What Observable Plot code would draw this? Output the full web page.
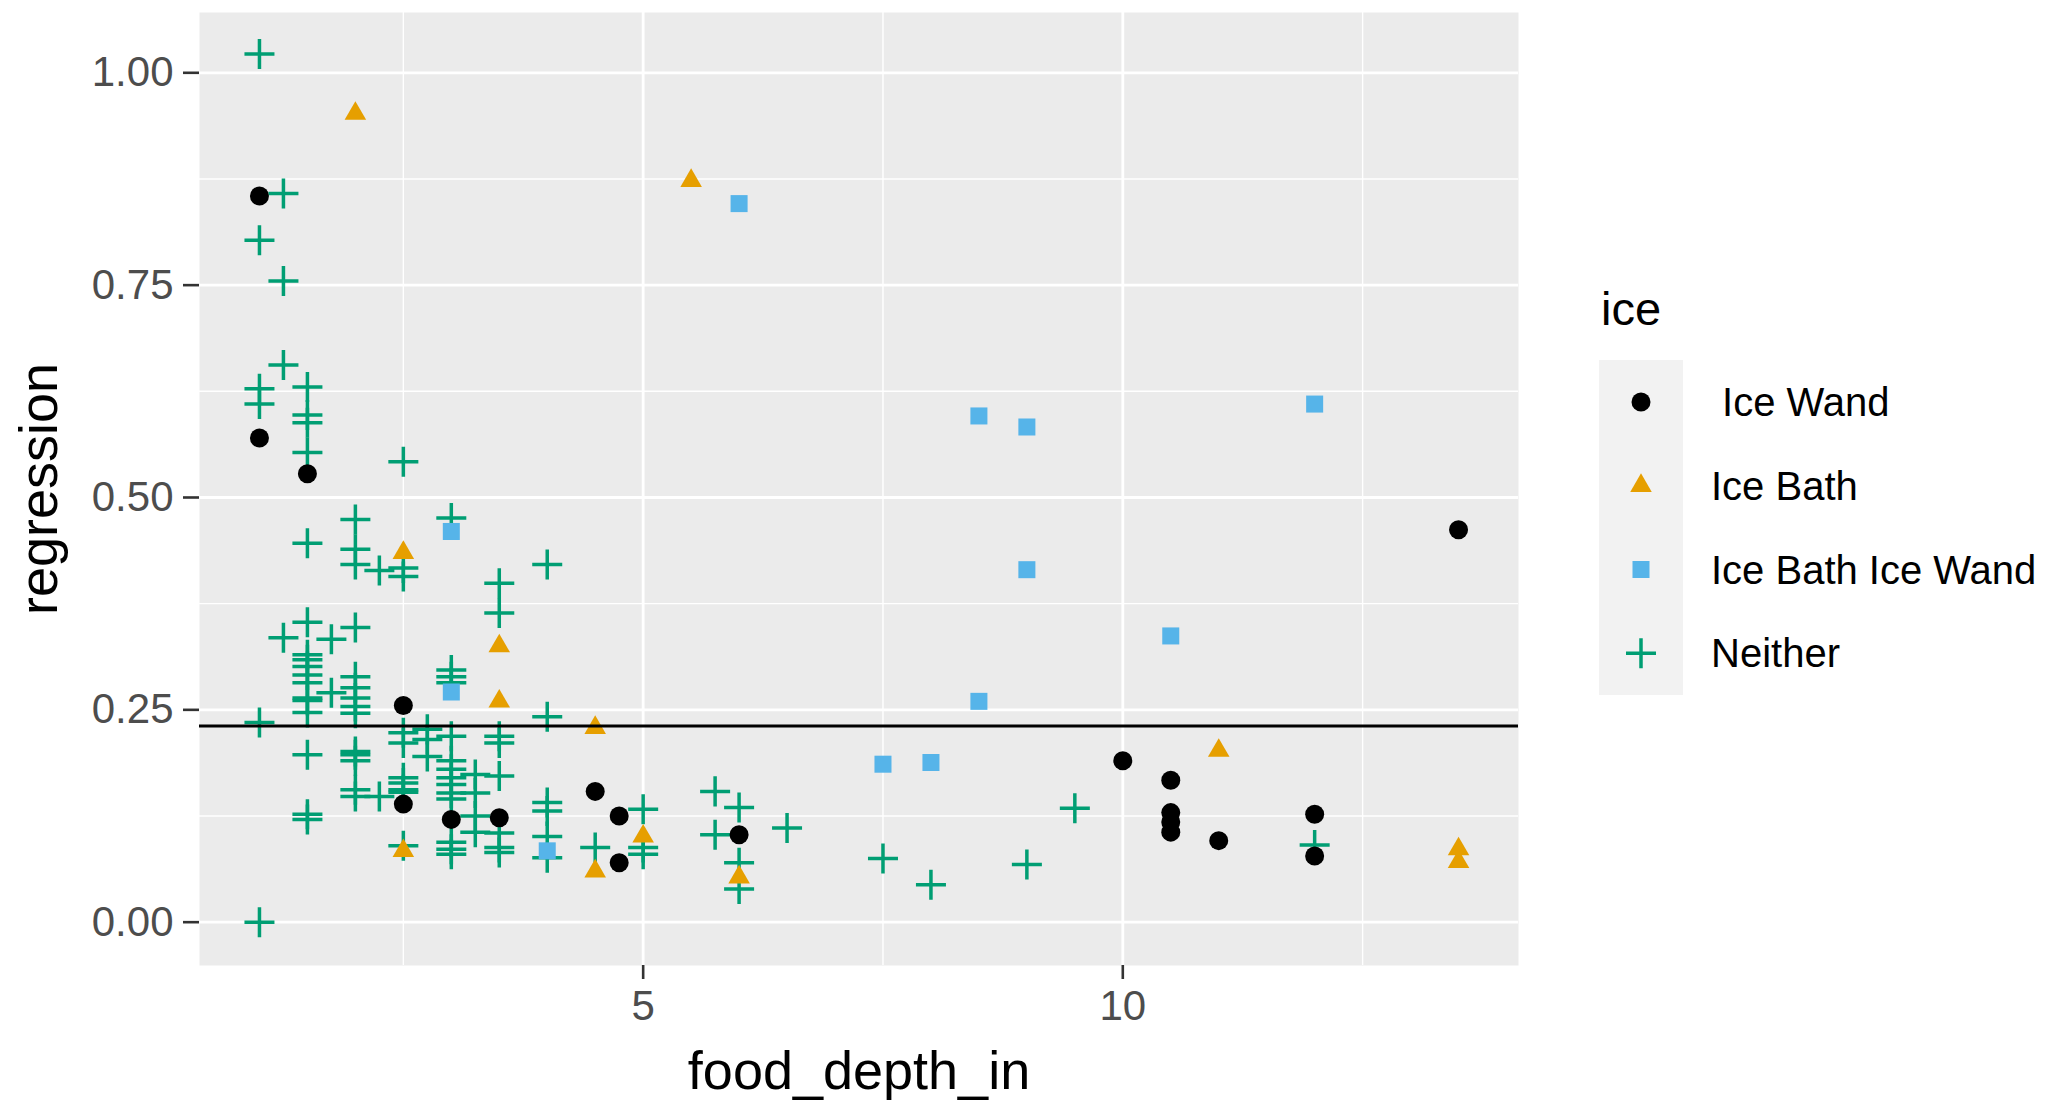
<!DOCTYPE html>
<html>
<head>
<meta charset="utf-8">
<script src="https://cdn.jsdelivr.net/npm/d3@7"></script>
<script src="https://cdn.jsdelivr.net/npm/@observablehq/plot@0.6"></script>
<style>
  html, body { margin: 0; padding: 0; background: #ffffff; }
  #wrap { position: relative; width: 2069px; height: 1104px; font-family: "Liberation Sans", Arial, sans-serif; overflow: hidden; }
  #chart { position: absolute; left: 0; top: 0; }
  #legend { position: absolute; left: 1560px; top: 260px; }
</style>
</head>
<body>
<div id="wrap"><div id="chart"></div><div id="legend"></div></div>
<script>
// ---- categories / styling keys ----
const categories = [" Ice Wand", "Ice Bath", "Ice Bath Ice Wand", "Neither"];
const colors = ["#000000", "#E69F00", "#56B4E9", "#009E73"];
const shapes = ["circle", "triangle", "square", "plus"];

// ---- tick values ----
const xMajorTicks = [5, 10];
const xMinorTicks = [2.5, 7.5, 12.5];
const yMajorTicks = [0, 0.25, 0.5, 0.75, 1.0];
const yMinorTicks = [0.125, 0.375, 0.625, 0.875];
const xDomain = [0.375, 14.125];
const yDomain = [-0.051, 1.071];
const hlineValue = [0.231];

// ---- " Ice Wand" (black circles) ----
const iceWandX = [1, 1, 1.5, 2.5, 2.5, 3, 3.5, 4.5, 4.75, 4.75, 6, 10, 10.5, 10.5, 10.5, 10.5, 11, 12, 12, 13.5];
const iceWandY = [0.855, 0.570, 0.528, 0.255, 0.139, 0.121, 0.123, 0.154, 0.125, 0.070, 0.103, 0.190, 0.167, 0.129, 0.118, 0.106, 0.096, 0.127, 0.078, 0.462];

// ---- "Ice Bath" (orange triangles) ----
const iceBathX = [2, 2.5, 2.5, 3.5, 3.5, 4.5, 4.5, 5, 5.5, 6, 11, 13.5, 13.5];
const iceBathY = [0.952, 0.435, 0.084, 0.325, 0.260, 0.229, 0.060, 0.101, 0.873, 0.053, 0.202, 0.086, 0.071];

// ---- "Ice Bath Ice Wand" (blue squares) ----
const bothX = [3, 3, 4, 6, 7.5, 8, 8.5, 8.5, 9, 9, 10.5, 12];
const bothY = [0.460, 0.271, 0.084, 0.846, 0.186, 0.188, 0.596, 0.260, 0.583, 0.415, 0.337, 0.610];

// ---- "Neither" (green plus), grouped by food depth ----
const neitherDepths = [1, 1.25, 1.5, 1.75, 2, 2.25, 2.5, 2.75, 3, 3.25, 3.5, 4, 4.5, 5, 5.75, 6, 6.5, 7.5, 8, 9, 9.5, 12];
const neitherValues = [
  [1.022, 0.803, 0.628, 0.610, 0.235, 0.000],
  [0.858, 0.755, 0.656, 0.335],
  [0.630, 0.597, 0.588, 0.553, 0.446, 0.353, 0.315, 0.309, 0.301, 0.291, 0.282, 0.264, 0.261, 0.247, 0.197, 0.127, 0.121],
  [0.333, 0.270],
  [0.474, 0.439, 0.421, 0.347, 0.289, 0.276, 0.264, 0.254, 0.246, 0.201, 0.197, 0.190, 0.156, 0.148],
  [0.414, 0.148],
  [0.542, 0.417, 0.407, 0.223, 0.211, 0.170, 0.164, 0.156, 0.153, 0.090],
  [0.227, 0.215, 0.195],
  [0.476, 0.297, 0.289, 0.282, 0.219, 0.190, 0.180, 0.170, 0.162, 0.152, 0.145, 0.094, 0.086, 0.080],
  [0.174, 0.152, 0.125, 0.106],
  [0.399, 0.364, 0.219, 0.211, 0.172, 0.105, 0.088, 0.082],
  [0.421, 0.242, 0.141, 0.131, 0.101, 0.076],
  [0.088],
  [0.133, 0.088, 0.080],
  [0.154, 0.103],
  [0.135, 0.070, 0.039],
  [0.111],
  [0.075],
  [0.044],
  [0.068],
  [0.134],
  [0.091]
];

// ---- build tables ----
const wandRows = iceWandX.map((x, i) => ({ice: categories[0], food_depth_in: x, regression: iceWandY[i]}));
const bathRows = iceBathX.map((x, i) => ({ice: categories[1], food_depth_in: x, regression: iceBathY[i]}));
const bothRows = bothX.map((x, i) => ({ice: categories[2], food_depth_in: x, regression: bothY[i]}));
const neitherRows = neitherDepths.flatMap((x, i) => neitherValues[i].map(v => ({ice: categories[3], food_depth_in: x, regression: v})));

const font = "Liberation Sans, Arial, sans-serif";
const symbolR = {circle: 9.5, triangle: 8, square: 9.6, plus: 9.7};

const plot = Plot.plot({
  width: 1528,
  height: 1104,
  marginLeft: 199,
  marginRight: 10,
  marginTop: 12,
  marginBottom: 139,
  style: {fontFamily: font, background: "white", overflow: "visible"},
  x: {domain: xDomain},
  y: {domain: yDomain},
  color: {domain: categories, range: colors},
  marks: [
    Plot.frame({fill: "#EBEBEB", stroke: "none"}),
    Plot.gridX(xMinorTicks, {stroke: "white", strokeOpacity: 1, strokeWidth: 1.4}),
    Plot.gridY(yMinorTicks, {stroke: "white", strokeOpacity: 1, strokeWidth: 1.4}),
    Plot.gridX(xMajorTicks, {stroke: "white", strokeOpacity: 1, strokeWidth: 2.8}),
    Plot.gridY(yMajorTicks, {stroke: "white", strokeOpacity: 1, strokeWidth: 2.8}),
    Plot.axisX(xMajorTicks, {anchor: "bottom", tickSize: 14, tickPadding: 11, fontSize: 42, stroke: "#333333", fill: "#4D4D4D", strokeWidth: 2.6, label: null}),
    Plot.axisY(yMajorTicks, {anchor: "left", tickSize: 16, tickPadding: 10, fontSize: 42, stroke: "#333333", fill: "#4D4D4D", strokeWidth: 2.6, tickFormat: d3.format(".2f"), label: null}),
    Plot.text(["food_depth_in"], {text: d => d, frameAnchor: "bottom", dy: 106, fontSize: 54, fill: "black", textAnchor: "middle", lineAnchor: "middle"}),
    Plot.text(["regression"], {text: d => d, frameAnchor: "left", dx: -160, rotate: -90, fontSize: 54, fill: "black", textAnchor: "middle", lineAnchor: "middle"}),
    Plot.dot(neitherRows, {x: "food_depth_in", y: "regression", stroke: "ice", symbol: "plus", r: symbolR.plus, strokeWidth: 3.5}),
    Plot.dot(wandRows, {x: "food_depth_in", y: "regression", fill: "ice", symbol: "circle", r: symbolR.circle, stroke: "none"}),
    Plot.dot(bathRows, {x: "food_depth_in", y: "regression", fill: "ice", symbol: "triangle", r: symbolR.triangle, stroke: "none"}),
    Plot.dot(bothRows, {x: "food_depth_in", y: "regression", fill: "ice", symbol: "square", r: symbolR.square, stroke: "none"}),
    Plot.ruleY(hlineValue, {stroke: "black", strokeWidth: 3})
  ]
});
document.getElementById("chart").appendChild(plot);

// ---- legend (drawn with d3) ----
const symbolTypes = {circle: d3.symbolCircle, triangle: d3.symbolTriangle, square: d3.symbolSquare, plus: d3.symbolPlus};
const L = d3.select("#legend").append("svg")
  .attr("width", 509).attr("height", 450)
  .style("font-family", font);
L.append("text").attr("x", 41).attr("y", 65).attr("font-size", 47).attr("fill", "black").text("ice");
L.append("rect").attr("x", 39).attr("y", 100).attr("width", 84).attr("height", 335).attr("fill", "#F2F2F2");
categories.forEach((c, i) => {
  const cy = 142 + i * 83.75;
  const s = shapes[i];
  const path = d3.symbol(symbolTypes[s], Math.PI * symbolR[s] * symbolR[s])();
  const g = L.append("path").attr("d", path).attr("transform", `translate(81,${cy})`);
  if (s === "plus") g.attr("fill", "none").attr("stroke", colors[i]).attr("stroke-width", 3.5);
  else g.attr("fill", colors[i]);
  L.append("text").attr("x", 151).attr("y", cy).attr("dy", "0.35em")
    .attr("font-size", 40).attr("fill", "black").style("white-space", "pre").attr("xml:space", "preserve").text(c);
});
</script>
</body>
</html>
